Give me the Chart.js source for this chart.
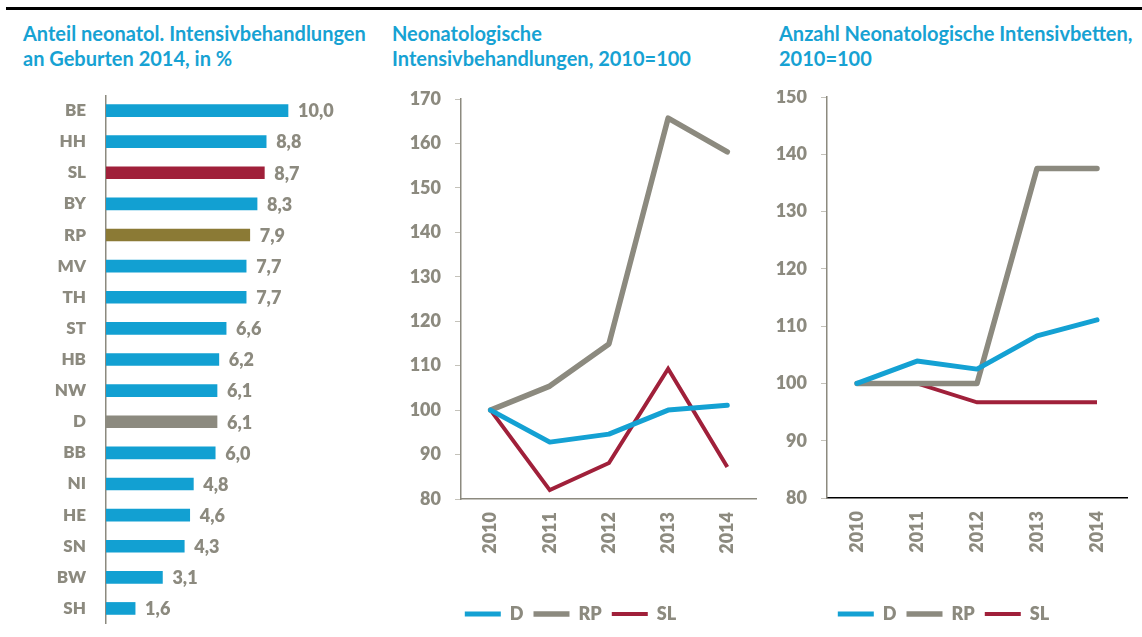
<!DOCTYPE html>
<html>
<head>
<meta charset="utf-8">
<script src="https://cdn.jsdelivr.net/npm/chart.js@4.4.1/dist/chart.umd.min.js"></script>
<style>
  body { margin: 0; width: 1142px; height: 637px; background: #fff; position: relative; overflow: hidden; font-family: Lato, "Open Sans", sans-serif; }
  .rule { position: absolute; left: 6px; top: 7px; width: 1136px; height: 3px; background: #000; }
  .title { position: absolute; color: #17a2d3; font-weight: bold; font-size: 20px; line-height: 25px; white-space: nowrap; }
  canvas { position: absolute; }
</style>
</head>
<body>
<div class="rule"></div>
<div class="title" style="left:23px; top:21px;">Anteil neonatol. Intensivbehandlungen<br>an Geburten 2014, in %</div>
<div class="title" style="left:392px; top:21px;">Neonatologische<br>Intensivbehandlungen, 2010=100</div>
<div class="title" style="left:779px; top:21px;">Anzahl Neonatologische Intensivbetten,<br>2010=100</div>

<canvas id="barChart" width="379" height="529" style="left:0; top:95px;"></canvas>
<canvas id="lineA" width="382" height="543" style="left:380px; top:90px;"></canvas>
<canvas id="lineB" width="382" height="543" style="left:760px; top:90px;"></canvas>

<script>
const grey = "#8c8a7f";
const blue = "#14a1d3";
const red = "#a0203a";
const olive = "#8b7a35";

// left panel
const states = ["BE", "HH", "SL", "BY", "RP", "MV", "TH", "ST", "HB", "NW", "D", "BB", "NI", "HE", "SN", "BW", "SH"];
const shares = [10.0, 8.8, 8.7, 8.3, 7.9, 7.7, 7.7, 6.6, 6.2, 6.1, 6.1, 6.0, 4.8, 4.6, 4.3, 3.1, 1.6];

// line panels
const years = ["2010", "2011", "2012", "2013", "2014"];
const treatD = [100, 92.8, 94.6, 100, 101.1];
const treatRP = [100, 105.4, 114.9, 165.7, 158.1];
const treatSL = [100, 82.0, 88.1, 109.3, 87.2];
const bedsD = [100, 103.9, 102.5, 108.3, 111.1];
const bedsRP = [100, 100, 100, 137.5, 137.5];
const bedsSL = [100, 100, 96.7, 96.7, 96.7];

Chart.defaults.font.family = "Lato, 'Open Sans', sans-serif";
Chart.defaults.font.weight = 800;
Chart.defaults.font.size = 18;
Chart.defaults.color = grey;

const barColors = states.map(s => s === "SL" ? red : s === "RP" ? olive : s === "D" ? grey : "#12a0d2");

const valueLabels = {
  id: "valueLabels",
  afterDatasetsDraw(chart) {
    const ctx = chart.ctx;
    const meta = chart.getDatasetMeta(0);
    ctx.save();
    ctx.font = "800 18px Lato, 'Open Sans', sans-serif";
    ctx.fillStyle = grey;
    ctx.textAlign = "left";
    ctx.textBaseline = "middle";
    meta.data.forEach((bar, i) => {
      const txt = shares[i].toFixed(1).replace(".", ",");
      ctx.fillText(txt, bar.x + 10, bar.y + 1);
    });
    ctx.restore();
  }
};

new Chart(document.getElementById("barChart"), {
  type: "bar",
  data: {
    labels: states,
    datasets: [{ data: shares, backgroundColor: barColors, barThickness: 12 }]
  },
  options: {
    indexAxis: "y",
    responsive: false,
    devicePixelRatio: 1,
    animation: false,
    layout: { padding: 0 },
    plugins: { legend: { display: false }, tooltip: { enabled: false } },
    scales: {
      x: { display: false, min: 0, max: 15 },
      y: {
        afterFit: s => { s.width = 106; s.paddingTop = 0; s.paddingBottom = 0; },
        grid: { display: false, drawTicks: false },
        border: { display: true, color: grey, width: 1.5 },
        ticks: { padding: 20, font: { size: 17, weight: 800 } }
      }
    }
  },
  plugins: [valueLabels]
});

function lineChart(id, d, rp, sl, yMin, yMax, axisW, padTop, padRight, xAxisH, xAxisColor) {
  return new Chart(document.getElementById(id), {
    type: "line",
    data: {
      labels: years,
      datasets: [
        { label: "D", data: d, borderColor: blue, backgroundColor: blue, borderWidth: 5, pointRadius: 0, borderCapStyle: "round", borderJoinStyle: "round" },
        { label: "RP", data: rp, borderColor: grey, backgroundColor: grey, borderWidth: 5.5, pointRadius: 0, borderCapStyle: "round", borderJoinStyle: "round" },
        { label: "SL", data: sl, borderColor: red, backgroundColor: red, borderWidth: 4, pointRadius: 0, borderCapStyle: "butt", borderJoinStyle: "miter" }
      ]
    },
    options: {
      responsive: false,
      devicePixelRatio: 1,
      animation: false,
      layout: { padding: { top: padTop, right: padRight, left: 0, bottom: 0 } },
      plugins: {
        tooltip: { enabled: false },
        legend: {
          position: "bottom",
          labels: {
            usePointStyle: true,
            pointStyle: "line",
            pointStyleWidth: 36,
            padding: 10,
            color: grey,
            font: { size: 18, weight: 800 }
          }
        }
      },
      scales: {
        x: {
          offset: true,
          afterFit: s => { s.height = xAxisH; },
          grid: { display: false, drawTicks: false },
          border: { display: true, color: xAxisColor, width: 1.5 },
          ticks: { minRotation: 90, maxRotation: 90, padding: 13, font: { size: 18, weight: 800 } }
        },
        y: {
          min: yMin,
          max: yMax,
          afterFit: s => { s.width = axisW; s.paddingTop = 0; s.paddingBottom = 0; },
          grid: { drawOnChartArea: false, drawTicks: true, tickLength: 6, color: "#c4c2ba" },
          border: { display: true, color: grey, width: 1.5 },
          ticks: { stepSize: 10, padding: 14, font: { size: 18, weight: 800 } }
        }
      }
    }
  });
}

lineChart("lineA", treatD, treatRP, treatSL, 80, 170, 81, 9, 1, 96, grey);
lineChart("lineB", bedsD, bedsRP, bedsSL, 80, 150, 67, 7, 15, 97, "#000");
</script>
</body>
</html>
